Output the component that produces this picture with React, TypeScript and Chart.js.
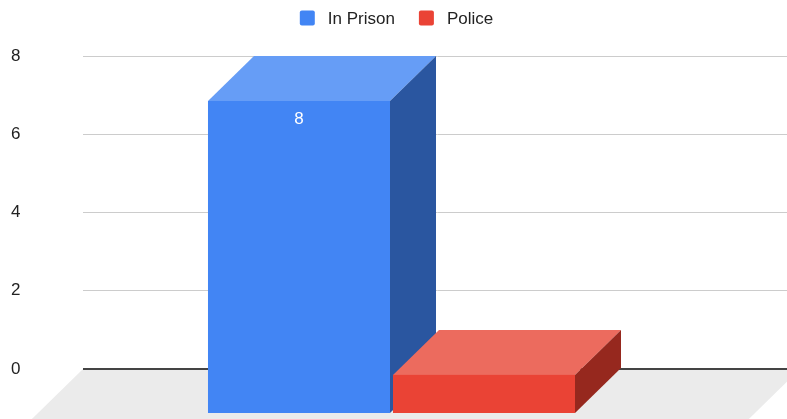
import React, { useEffect, useRef } from 'react';
import { Chart, registerables } from 'chart.js';

Chart.register(...registerables);

// ---- data ----
const categories = [''];
const seriesNames = ['In Prison', 'Police'];
const inPrison = [8];
const police = [1];
const yMin = 0;
const yMax = 8;
const yStep = 2;
const showValueLabels = [true, false];

// ---- styles ----
const FRONT = ['#4285F4', '#EA4335'];
const TOP = ['#669DF6', '#EC6B5E'];
const SIDE = ['#2A56A0', '#96281E'];
const FLOOR = '#EBEBEB';
const DX = -46;
const DY = 45;
const FONT = '"Liberation Sans", Arial, sans-serif';
const TEXT = '#222222';
const VIEW_W = 787;
const CANVAS_W = 792;
const H = 419;

const threeDPlugin = {
  id: 'threeD',
  beforeDraw(chart: any) {
    const { ctx, chartArea: a } = chart;
    const yb = chart.scales.y.getPixelForValue(0);
    const L = a.left;
    const R = a.right + 8;
    const k = 70 / DY;
    ctx.save();
    ctx.fillStyle = FLOOR;
    ctx.beginPath();
    ctx.moveTo(L, yb);
    ctx.lineTo(R, yb);
    ctx.lineTo(R + DX * k, yb + DY * k);
    ctx.lineTo(L + DX * k, yb + DY * k);
    ctx.closePath();
    ctx.fill();
    ctx.restore();
  },
  afterDatasetsDraw(chart: any) {
    const { ctx } = chart;
    ctx.save();
    chart.data.datasets.forEach((ds: any, i: number) => {
      const meta = chart.getDatasetMeta(i);
      meta.data.forEach((el: any, j: number) => {
        const { x, y, base, width } = el.getProps(['x', 'y', 'base', 'width'], true);
        const l = x - width / 2;
        const r = x + width / 2;
        // top face
        ctx.fillStyle = TOP[i];
        ctx.beginPath();
        ctx.moveTo(l + DX, y + DY);
        ctx.lineTo(l, y);
        ctx.lineTo(r, y);
        ctx.lineTo(r + DX, y + DY);
        ctx.closePath();
        ctx.fill();
        // side face
        ctx.fillStyle = SIDE[i];
        ctx.beginPath();
        ctx.moveTo(r + DX, y + DY);
        ctx.lineTo(r, y);
        ctx.lineTo(r, base);
        ctx.lineTo(r + DX, base + DY);
        ctx.closePath();
        ctx.fill();
        // front face
        ctx.fillStyle = FRONT[i];
        ctx.fillRect(l + DX, y + DY, width, base - y);
        if (showValueLabels[i]) {
          ctx.fillStyle = '#FFFFFF';
          ctx.font = `17px ${FONT}`;
          ctx.textAlign = 'center';
          ctx.textBaseline = 'middle';
          ctx.fillText(String(ds.data[j]), x + DX, y + DY + 18);
        }
      });
    });
    ctx.restore();
  },
  afterDraw(chart: any) {
    const { ctx } = chart;
    ctx.save();
    ctx.font = `17px ${FONT}`;
    const box = 15;
    const gapText = 13;
    const gapItem = 24;
    const items = chart.data.datasets.map((d: any) => ({
      label: d.label,
      w: ctx.measureText(d.label).width,
    }));
    let total = 0;
    items.forEach((it: any, i: number) => {
      total += box + gapText + it.w + (i < items.length - 1 ? gapItem : 0);
    });
    let x = VIEW_W / 2 - total / 2 + 3;
    const cy = 18;
    items.forEach((it: any, i: number) => {
      ctx.fillStyle = FRONT[i];
      ctx.beginPath();
      (ctx as any).roundRect ? (ctx as any).roundRect(x, cy - box / 2, box, box, 2) : ctx.rect(x, cy - box / 2, box, box);
      ctx.fill();
      ctx.fillStyle = TEXT;
      ctx.textAlign = 'left';
      ctx.textBaseline = 'middle';
      ctx.fillText(it.label, x + box + gapText, cy + 1);
      x += box + gapText + it.w + gapItem;
    });
    ctx.restore();
  },
};

export default function App() {
  const ref = useRef<HTMLCanvasElement>(null);
  useEffect(() => {
    if (!ref.current) return;
    const chart = new Chart(ref.current, {
      type: 'bar',
      data: {
        labels: categories,
        datasets: [
          { label: seriesNames[0], data: inPrison, backgroundColor: 'rgba(0,0,0,0)' },
          { label: seriesNames[1], data: police, backgroundColor: 'rgba(0,0,0,0)' },
        ],
      },
      options: {
        responsive: false,
        animation: false,
        devicePixelRatio: 1,
        layout: { padding: { left: 11, top: 56, right: 0, bottom: 50 } },
        datasets: { bar: { categoryPercentage: 0.5219, barPercentage: 0.9838 } },
        plugins: { legend: { display: false }, tooltip: { enabled: false } },
        scales: {
          x: { display: false },
          y: {
            min: yMin,
            max: yMax,
            border: { display: false },
            grid: {
              drawTicks: false,
              color: (c: any) => (c.tick && c.tick.value === 0 ? '#444444' : '#CCCCCC'),
              lineWidth: (c: any) => (c.tick && c.tick.value === 0 ? 2 : 1),
            },
            ticks: {
              stepSize: yStep,
              color: TEXT,
              font: { size: 17, family: FONT },
              crossAlign: 'far',
              padding: 0,
            },
            afterFit: (s: any) => {
              s.width = 72;
            },
          },
        },
      } as any,
      plugins: [threeDPlugin],
    });
    return () => chart.destroy();
  }, []);
  return (
    <div style={{ position: 'absolute', left: 0, top: 0, width: VIEW_W, height: H, overflow: 'hidden', background: '#fff' }}>
      <canvas ref={ref} width={CANVAS_W} height={H} style={{ width: CANVAS_W, height: H, display: 'block' }} />
    </div>
  );
}
